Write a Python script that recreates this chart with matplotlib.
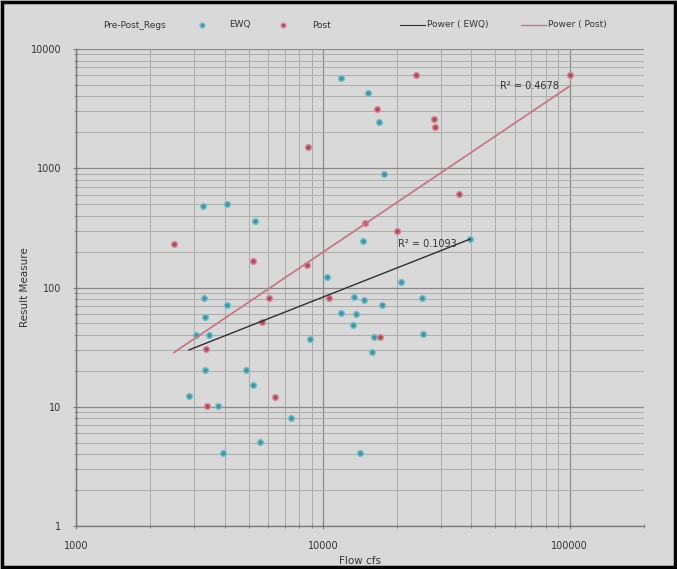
import matplotlib
matplotlib.use("Agg")
import matplotlib.pyplot as plt
from matplotlib.lines import Line2D
from matplotlib.patches import Rectangle
from matplotlib.ticker import LogLocator, FixedLocator, NullFormatter
import numpy as np

# ---- data ----
ewq_flow = [11800, 15260, 16860, 17710, 3277, 4100, 5320, 14520, 10350, 20640,
            39370, 3298, 4075, 13350, 14650, 17330, 25170, 3338, 11860, 13640,
            13270, 3069, 3445, 8860, 16190, 25480, 15830, 3338, 4880, 5193,
            2868, 3748, 7420, 5560, 3937, 14120]
ewq_result = [5680, 4250, 2430, 895, 485, 501, 363, 245, 122, 111,
              254, 81, 71, 83, 79, 71, 81, 57, 61, 60,
              48.5, 40, 40, 36.8, 38.7, 40.5, 28.8, 20.3, 20.3, 15.1,
              12.2, 10.1, 8.1, 5.06, 4.1, 4.1]

post_flow = [23800, 100000, 16500, 28220, 28400, 8720, 35640, 14790, 19990, 2493,
             5193, 8590, 6045, 10550, 5663, 17010, 3350, 3401, 6375]
post_result = [6090, 6090, 3120, 2572, 2205, 1507, 608, 345, 295, 233,
               168, 154, 81, 81, 50.9, 38.7, 30.3, 10.1, 12.1]

# power trendlines y = a * x^b (as displayed)
ewq_trend = (0.0452, 0.816)
post_trend = (0.000529, 1.393)
ewq_r2 = "R\u00b2 = 0.1093"
post_r2 = "R\u00b2 = 0.4678"

x_ticks = [1000, 10000, 100000]
y_ticks = [1, 10, 100, 1000, 10000]

legend_title = "Pre-Post_Regs"
series_names = ["EWQ", "Post"]
trend_names = ["Power ( EWQ)", "Power ( Post)"]

# ---- styling ----
BG = "#d9d9d9"
TEAL_F, TEAL_E = "#4f8f99", "#72c3d1"
RED_F, RED_E = "#a0505e", "#e08a98"
EWQ_LINE = "#2f2f2f"
POST_LINE = "#c47a86"
TXT = "#333333"
FS = 7

plt.rcParams["font.family"] = ["DejaVu Sans"]

W, H = 677, 569
fig = plt.figure(figsize=(W / 100, H / 100), dpi=100, facecolor=BG)
fig.patches.append(Rectangle((2 / W, 2 / H), 1 - 4 / W, 1 - 4 / H, transform=fig.transFigure,
                             fill=False, edgecolor="black", linewidth=2.5, zorder=10))

ax = fig.add_axes([76 / W, 43 / H, (644 - 76) / W, (526 - 49) / H])
ax.set_facecolor(BG)
ax.set_xscale("log")
ax.set_yscale("log")
ax.set_xlim(1000, 200000)
ax.set_ylim(1, 10000)

ax.xaxis.set_major_locator(FixedLocator(x_ticks))
ax.yaxis.set_major_locator(FixedLocator(y_ticks))
ax.set_xticklabels([str(v) for v in x_ticks])
ax.set_yticklabels([str(v) for v in y_ticks])
ax.xaxis.set_minor_locator(LogLocator(base=10, subs=np.arange(2, 10)))
ax.yaxis.set_minor_locator(LogLocator(base=10, subs=np.arange(2, 10)))
ax.xaxis.set_minor_formatter(NullFormatter())
ax.yaxis.set_minor_formatter(NullFormatter())

ax.grid(which="major", color="#8a8a8a", linewidth=0.9)
ax.grid(which="minor", color="#ababab", linewidth=0.7)
ax.set_axisbelow(True)

for s in ["top", "right"]:
    ax.spines[s].set_visible(False)
for s in ["left", "bottom"]:
    ax.spines[s].set_color("#7a7a7a")
    ax.spines[s].set_linewidth(1.0)

ax.tick_params(which="both", direction="inout", colors="#7a7a7a", labelcolor=TXT, labelsize=FS)
ax.tick_params(which="major", length=5)
ax.tick_params(which="minor", length=3)
ax.tick_params(axis="x", pad=8)
ax.tick_params(axis="y", pad=8)

ax.set_xlabel("Flow cfs", fontsize=FS + 0.5, color=TXT, labelpad=4)
ax.set_ylabel("Result Measure", fontsize=FS + 0.5, color=TXT)
ax.yaxis.set_label_coords((30 - 76) / (644 - 76), 0.5)

# scatter
ax.plot(ewq_flow, ewq_result, linestyle="none", marker="o", markersize=4.2,
        markerfacecolor=TEAL_F, markeredgecolor=TEAL_E, markeredgewidth=1.0, zorder=3)
ax.plot(post_flow, post_result, linestyle="none", marker="o", markersize=4.2,
        markerfacecolor=RED_F, markeredgecolor=RED_E, markeredgewidth=1.0, zorder=3)

# trendlines
xe = np.logspace(np.log10(min(ewq_flow)), np.log10(max(ewq_flow)), 50)
ax.plot(xe, ewq_trend[0] * xe ** ewq_trend[1], color=EWQ_LINE, linewidth=1.0, zorder=4)
xp = np.logspace(np.log10(min(post_flow)), np.log10(max(post_flow)), 50)
ax.plot(xp, post_trend[0] * xp ** post_trend[1], color=POST_LINE, linewidth=1.3, zorder=4)

# R^2 labels
fig.text(529 / W, 1 - 86 / H, post_r2, fontsize=FS, color=TXT, ha="center", va="center")
fig.text(427 / W, 1 - 244 / H, ewq_r2, fontsize=FS, color=TXT, ha="center", va="center")

# legend (top row)
ly = 1 - 25 / H
fig.text(103 / W, ly, legend_title, fontsize=FS - 0.5, color=TXT, ha="left", va="center")
fig.add_artist(Line2D([202 / W], [ly], marker="o", markersize=3.5, linestyle="none",
                      markerfacecolor=TEAL_F, markeredgecolor=TEAL_E, transform=fig.transFigure))
fig.text(229 / W, ly, series_names[0], fontsize=FS - 0.5, color=TXT, ha="left", va="center")
fig.add_artist(Line2D([283 / W], [ly], marker="o", markersize=3.5, linestyle="none",
                      markerfacecolor=RED_F, markeredgecolor=RED_E, transform=fig.transFigure))
fig.text(312 / W, ly, series_names[1], fontsize=FS - 0.5, color=TXT, ha="left", va="center")
fig.add_artist(Line2D([400 / W, 425 / W], [ly, ly], color=EWQ_LINE, linewidth=0.8,
                      transform=fig.transFigure))
fig.text(427 / W, ly, trend_names[0], fontsize=FS - 0.5, color=TXT, ha="left", va="center")
fig.add_artist(Line2D([521 / W, 546 / W], [ly, ly], color=POST_LINE, linewidth=1.0,
                      transform=fig.transFigure))
fig.text(548 / W, ly, trend_names[1], fontsize=FS - 0.5, color=TXT, ha="left", va="center")

fig.savefig("out.png", dpi=100, facecolor=BG)
